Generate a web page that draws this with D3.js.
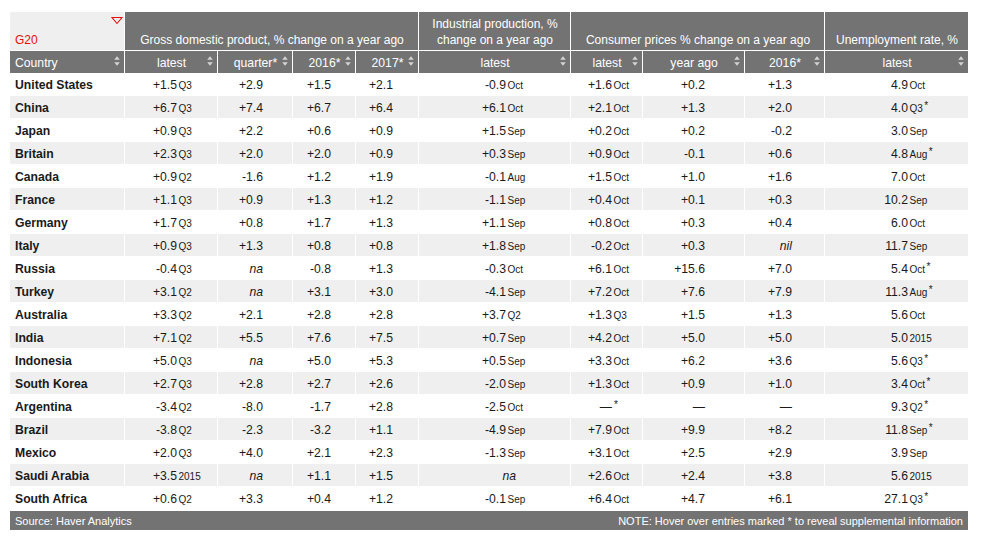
<!DOCTYPE html>
<html>
<head>
<meta charset="utf-8">
<script src="https://cdn.jsdelivr.net/npm/d3@7"></script>
<style>
  html, body { margin: 0; padding: 0; background: #fff; }
  svg { display: block; font-family: "Liberation Sans", Arial, Helvetica, sans-serif; }
</style>
</head>
<body>
<svg id="chart" width="983" height="538"></svg>
<script>
// ---------------- DATA ----------------
const countries = ["United States","China","Japan","Britain","Canada","France","Germany","Italy","Russia","Turkey","Australia","India","Indonesia","South Korea","Argentina","Brazil","Mexico","Saudi Arabia","South Africa"];

const gdpLatest       = ["+1.5","+6.7","+0.9","+2.3","+0.9","+1.1","+1.7","+0.9","-0.4","+3.1","+3.3","+7.1","+5.0","+2.7","-3.4","-3.8","+2.0","+3.5","+0.6"];
const gdpLatestPeriod = ["Q3","Q3","Q3","Q3","Q2","Q3","Q3","Q3","Q3","Q2","Q2","Q2","Q3","Q3","Q2","Q2","Q3","2015","Q2"];
const gdpQuarter      = ["+2.9","+7.4","+2.2","+2.0","-1.6","+0.9","+0.8","+1.3","na","na","+2.1","+5.5","na","+2.8","-8.0","-2.3","+4.0","na","+3.3"];
const gdp2016         = ["+1.5","+6.7","+0.6","+2.0","+1.2","+1.3","+1.7","+0.8","-0.8","+3.1","+2.8","+7.6","+5.0","+2.7","-1.7","-3.2","+2.1","+1.1","+0.4"];
const gdp2017         = ["+2.1","+6.4","+0.9","+0.9","+1.9","+1.2","+1.3","+0.8","+1.3","+3.0","+2.8","+7.5","+5.3","+2.6","+2.8","+1.1","+2.3","+1.5","+1.2"];

const ipLatest        = ["-0.9","+6.1","+1.5","+0.3","-0.1","-1.1","+1.1","+1.8","-0.3","-4.1","+3.7","+0.7","+0.5","-2.0","-2.5","-4.9","-1.3","na","-0.1"];
const ipLatestPeriod  = ["Oct","Oct","Sep","Sep","Aug","Sep","Sep","Sep","Oct","Sep","Q2","Sep","Sep","Sep","Oct","Sep","Sep","","Sep"];

const cpiLatest       = ["+1.6","+2.1","+0.2","+0.9","+1.5","+0.4","+0.8","-0.2","+6.1","+7.2","+1.3","+4.2","+3.3","+1.3","\u2014","+7.9","+3.1","+2.6","+6.4"];
const cpiLatestPeriod = ["Oct","Oct","Oct","Oct","Oct","Oct","Oct","Oct","Oct","Oct","Q3","Oct","Oct","Oct","*","Oct","Oct","Oct","Oct"];
const cpiYearAgo      = ["+0.2","+1.3","+0.2","-0.1","+1.0","+0.1","+0.3","+0.3","+15.6","+7.6","+1.5","+5.0","+6.2","+0.9","\u2014","+9.9","+2.5","+2.4","+4.7"];
const cpi2016         = ["+1.3","+2.0","-0.2","+0.6","+1.6","+0.3","+0.4","nil","+7.0","+7.9","+1.3","+5.0","+3.6","+1.0","\u2014","+8.2","+2.9","+3.8","+6.1"];

const unempLatest       = ["4.9","4.0","3.0","4.8","7.0","10.2","6.0","11.7","5.4","11.3","5.6","5.0","5.6","3.4","9.3","11.8","3.9","5.6","27.1"];
const unempLatestPeriod = ["Oct","Q3*","Sep","Aug*","Oct","Sep","Oct","Sep","Oct*","Aug*","Oct","2015","Q3*","Oct*","Q2*","Sep*","Sep","2015","Q3*"];

const groupHeaders = [
  { lines: ["Gross domestic product, % change on a year ago"], from: 1, to: 5 },
  { lines: ["Industrial production, %", "change on a year ago"], from: 5, to: 6 },
  { lines: ["Consumer prices % change on a year ago"], from: 6, to: 9 },
  { lines: ["Unemployment rate, %"], from: 9, to: 10 }
];
const subHeaders = ["Country","latest","quarter*","2016*","2017*","latest","latest","year ago","2016*","latest"];

const sourceText = "Source: Haver Analytics";
const noteText = "NOTE: Hover over entries marked * to reveal supplemental information";

// columns of values: [values, periods]
const columns = [
  [gdpLatest, gdpLatestPeriod],
  [gdpQuarter, null],
  [gdp2016, null],
  [gdp2017, null],
  [ipLatest, ipLatestPeriod],
  [cpiLatest, cpiLatestPeriod],
  [cpiYearAgo, null],
  [cpi2016, null],
  [unempLatest, unempLatestPeriod]
];

// ---------------- LAYOUT ----------------
const colEdges = [10, 125, 218, 293, 356, 419, 571, 643, 745, 825, 969];
const valueAnchor = [null, 177, 263, 331, 393, 506, 612, 705, 792, 908];
const headTop = 12, headMid = 50, head2Bottom = 73, bodyBottom = 510, footBottom = 530;

const C = {
  head: "#737373",
  g20bg: "#efefef",
  stripe: "#efefef",
  red: "#e3120b",
  text: "#1a1a1a",
  sortIcon: "#d4d4d4"
};

const svg = d3.select("#chart");

const x = d3.scaleOrdinal().domain(d3.range(colEdges.length)).range(colEdges);
const y = d3.scaleBand().domain(countries).range([head2Bottom, bodyBottom]).paddingInner(0).paddingOuter(0);

// ---- Header row 1 ----
svg.append("rect").attr("x", colEdges[0]).attr("y", headTop)
  .attr("width", colEdges[1] - colEdges[0] - 1).attr("height", headMid - headTop)
  .attr("fill", C.g20bg);
svg.append("text").attr("x", colEdges[0] + 5).attr("y", 44)
  .attr("fill", C.red).attr("font-size", 12).text("G20");
svg.append("path")
  .attr("d", d3.line()([[112, 17.5], [122, 17.5], [117, 23.5]]) + "Z")
  .attr("fill", "none").attr("stroke", C.red).attr("stroke-width", 1.1);

const gh = svg.append("g").selectAll("g").data(groupHeaders).join("g");
gh.append("rect")
  .attr("x", d => x(d.from)).attr("y", headTop)
  .attr("width", d => x(d.to) - x(d.from) - 1).attr("height", headMid - headTop)
  .attr("fill", C.head);
gh.each(function(d) {
  const g = d3.select(this);
  const cx = (x(d.from) + x(d.to)) / 2;
  const n = d.lines.length;
  d.lines.forEach((line, i) => {
    g.append("text").attr("x", cx).attr("y", 44 - (n - 1 - i) * 16)
      .attr("text-anchor", "middle").attr("fill", "#fff").attr("font-size", 12)
      .text(line);
  });
});

// ---- Header row 2 ----
const sh = svg.append("g").selectAll("g").data(subHeaders).join("g");
sh.append("rect")
  .attr("x", (d, i) => x(i)).attr("y", headMid + 1)
  .attr("width", (d, i) => x(i + 1) - x(i) - 1).attr("height", head2Bottom - headMid - 1)
  .attr("fill", C.head);
sh.append("text")
  .attr("x", (d, i) => i === 0 ? x(i) + 5 : (x(i) + x(i + 1)) / 2)
  .attr("y", 66.5)
  .attr("text-anchor", (d, i) => i === 0 ? "start" : "middle")
  .attr("fill", "#fff").attr("font-size", 12.2)
  .text(d => d);
// sort icons
sh.append("path")
  .attr("d", (d, i) => {
    const cx = x(i + 1) - 8;
    return `M${cx - 2.8},59.8L${cx + 2.8},59.8L${cx},56.2Z M${cx - 2.8},62.2L${cx + 2.8},62.2L${cx},65.8Z`;
  })
  .attr("fill", C.sortIcon);

// ---- Body ----
const rows = svg.append("g").selectAll("g").data(countries).join("g")
  .attr("transform", d => `translate(0,${y(d)})`);

rows.each(function(country, r) {
  const g = d3.select(this);
  const h = y.bandwidth();
  if (r % 2 === 1) {
    for (let c = 0; c < colEdges.length - 1; c++) {
      g.append("rect").attr("x", x(c)).attr("y", 0)
        .attr("width", x(c + 1) - x(c) - 1).attr("height", h - 1)
        .attr("fill", C.stripe);
    }
  }
  const base = h / 2 + 4;
  g.append("text").attr("x", x(0) + 5).attr("y", base)
    .attr("font-size", 12.2).attr("font-weight", "bold").attr("fill", C.text)
    .text(country);

  columns.forEach(([vals, periods], ci) => {
    const c = ci + 1;
    const v = vals[r];
    const p = periods ? periods[r] : "";
    const italic = (v === "na" || v === "nil");
    let ax = valueAnchor[c];
    if (periods && !p && italic) ax += 10;
    g.append("text").attr("x", ax).attr("y", base)
      .attr("text-anchor", "end").attr("font-size", 12.2)
      .attr("font-style", italic ? "italic" : null)
      .attr("fill", C.text).text(v);
    if (p) {
      const star = p.endsWith("*");
      const label = star ? p.slice(0, -1) : p;
      const t = g.append("text").attr("x", ax + 1.5).attr("y", base)
        .attr("fill", C.text).attr("font-size", 10);
      t.append("tspan").text(label);
      if (star) {
        t.append("tspan").attr("dx", label ? 1.5 : 0.5).attr("dy", -3).attr("font-size", 10).text("*");
      }
    }
  });
});

// ---- Footer ----
svg.append("rect").attr("x", colEdges[0]).attr("y", bodyBottom + 1)
  .attr("width", colEdges[colEdges.length - 1] - colEdges[0] - 1)
  .attr("height", footBottom - bodyBottom - 1).attr("fill", C.head);
svg.append("text").attr("x", colEdges[0] + 5).attr("y", 524.5)
  .attr("fill", "#fff").attr("font-size", 11).text(sourceText);
svg.append("text").attr("x", colEdges[colEdges.length - 1] - 6).attr("y", 524.5)
  .attr("text-anchor", "end").attr("fill", "#fff").attr("font-size", 11).text(noteText);
</script>
</body>
</html>
